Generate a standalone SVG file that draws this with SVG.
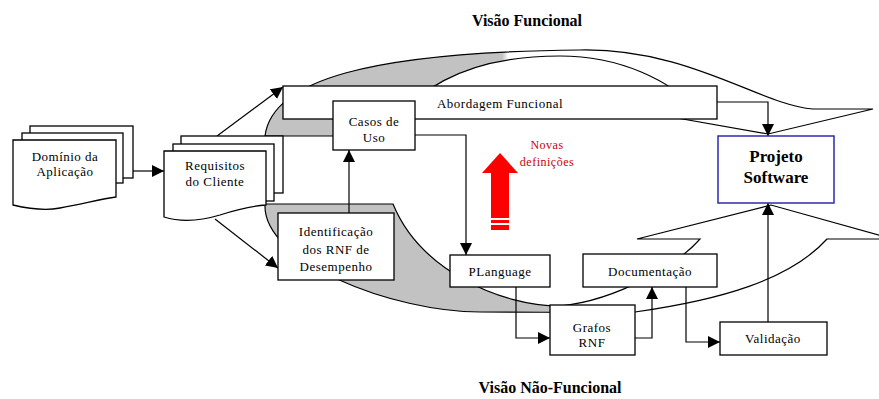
<svg xmlns="http://www.w3.org/2000/svg" width="879" height="399" viewBox="0 0 879 399">
<style>
.box{fill:#fff;stroke:#000;stroke-width:1.3}
.t{font-family:"Liberation Serif","Times New Roman",serif;font-size:13px;letter-spacing:0.5px;text-anchor:middle;fill:#000}
.title{font-family:"Liberation Serif","Times New Roman",serif;font-size:16px;font-weight:bold;text-anchor:middle;fill:#000}
.c{fill:none;stroke:#000;stroke-width:1.2}
.band{stroke:#000;stroke-width:1.2}
</style>
<defs>
<marker id="ah" markerUnits="userSpaceOnUse" markerWidth="12" markerHeight="12" refX="12" refY="6" orient="auto" viewBox="0 0 12 12"><path d="M0,0 L12,6 L0,12 z" fill="#000"/></marker>
<linearGradient id="gTop" gradientUnits="userSpaceOnUse" x1="265" y1="0" x2="873" y2="0"><stop offset="0" stop-color="#c2c2c2"/><stop offset="0.39" stop-color="#c2c2c2"/><stop offset="0.40" stop-color="#fff"/><stop offset="1" stop-color="#fff"/></linearGradient>
<linearGradient id="gBot" gradientUnits="userSpaceOnUse" x1="265" y1="0" x2="893" y2="0"><stop offset="0" stop-color="#c2c2c2"/><stop offset="0.46" stop-color="#c2c2c2"/><stop offset="0.47" stop-color="#fff"/><stop offset="1" stop-color="#fff"/></linearGradient>
</defs>
<rect width="879" height="399" fill="#fff"/>

<g id="views">
<path class="band" fill="url(#gTop)" d="M265,136 C272,80 370,52 580,50 C690,48 760,105 813,109 L873,109 L768,134 L660,115 L700,112 C670,80 620,56 560,56 C460,56 405,95 395,136 Z"/>
<path class="band" fill="url(#gBot)" d="M265,204 C262,262 393,312 480,312 C540,312 600,313 635,312 C720,300 790,280 827,239 L893,239 L771,205 L637,239 L700,239 C680,262 620,300 560,306 C500,306 420,270 393,204 Z"/>
<text class="title" x="527" y="26">Visão Funcional</text>
<text class="title" x="550" y="393">Visão Não-Funcional</text>
</g>

<g id="connectors">
<path class="c" d="M133,171 H164" marker-end="url(#ah)"/>
<path class="c" d="M217,136 L283,87" marker-end="url(#ah)"/>
<path class="c" d="M215,219 L278,268" marker-end="url(#ah)"/>
<path class="c" d="M717,102 H768 V136" marker-end="url(#ah)"/>
<path class="c" d="M349,213 V150" marker-end="url(#ah)"/>
<path class="c" d="M415,135 H466 V255" marker-end="url(#ah)"/>
<path class="c" d="M516,287 V338 H550" marker-end="url(#ah)"/>
<path class="c" d="M635,338 H652 V287" marker-end="url(#ah)"/>
<path class="c" d="M686,287 V342 H720" marker-end="url(#ah)"/>
<path class="c" d="M768,322 V203" marker-end="url(#ah)"/>
</g>

<g id="dominio">
<rect class="box" x="30" y="126" width="103" height="52"/>
<rect class="box" x="22" y="133" width="101" height="50"/>
<path class="box" d="M13,140 H116 V197 C100,199 80,205 60,208 C45,211 30,209 13,205 Z"/>
<text class="t" x="65" y="161">Domínio da</text>
<text class="t" x="65" y="176">Aplicação</text>
</g>

<g id="requisitos">
<rect class="box" x="181" y="136" width="102" height="57"/>
<rect class="box" x="173" y="144" width="101" height="57"/>
<path class="box" d="M164,151 H266 V205 C250,206 235,210 220,215 C200,221 180,222 164,217 Z"/>
<text class="t" x="215" y="170">Requisitos</text>
<text class="t" x="215" y="186">do Cliente</text>
</g>

<g id="abordagem">
<rect class="box" x="283" y="86" width="434" height="33"/>
<text class="t" x="500" y="108">Abordagem Funcional</text>
</g>

<g id="casos">
<rect class="box" x="333" y="101" width="82" height="49"/>
<text class="t" x="374" y="126">Casos de</text>
<text class="t" x="374" y="142">Uso</text>
</g>

<g id="identificacao">
<rect class="box" x="278" y="213" width="116" height="67"/>
<text class="t" x="336" y="236">Identificação</text>
<text class="t" x="336" y="254">dos RNF de</text>
<text class="t" x="336" y="271">Desempenho</text>
</g>

<g id="novas">
<path d="M500,153 L518,173 L509,173 L509,218 L491,218 L491,173 L482,173 Z" fill="#ff0000"/>
<rect x="491" y="220" width="18" height="3" fill="#ff0000"/>
<rect x="491" y="225" width="18" height="5" fill="#ff0000"/>
<text class="t" x="547" y="149" style="font-size:12px;fill:#cc0000">Novas</text>
<text class="t" x="547" y="166" style="font-size:12px;fill:#cc0000">definições</text>
</g>

<g id="projeto">
<rect x="718" y="136" width="116" height="67" fill="#fff" stroke="#2b2bb0" stroke-width="1.5"/>
<text class="t" x="776" y="162" style="font-size:17px;font-weight:bold;letter-spacing:0">Projeto</text>
<text class="t" x="776" y="183" style="font-size:17px;font-weight:bold;letter-spacing:0">Software</text>
</g>

<g id="planguage">
<rect class="box" x="450" y="255" width="100" height="32"/>
<text class="t" x="500" y="276">PLanguage</text>
</g>

<g id="documentacao">
<rect class="box" x="583" y="254" width="134" height="33"/>
<text class="t" x="650" y="276">Documentação</text>
</g>

<g id="grafos">
<rect class="box" x="550" y="305" width="85" height="50"/>
<text class="t" x="592" y="332">Grafos</text>
<text class="t" x="592" y="347">RNF</text>
</g>

<g id="validacao">
<rect class="box" x="720" y="322" width="107" height="33"/>
<text class="t" x="773" y="343">Validação</text>
</g>
</svg>
